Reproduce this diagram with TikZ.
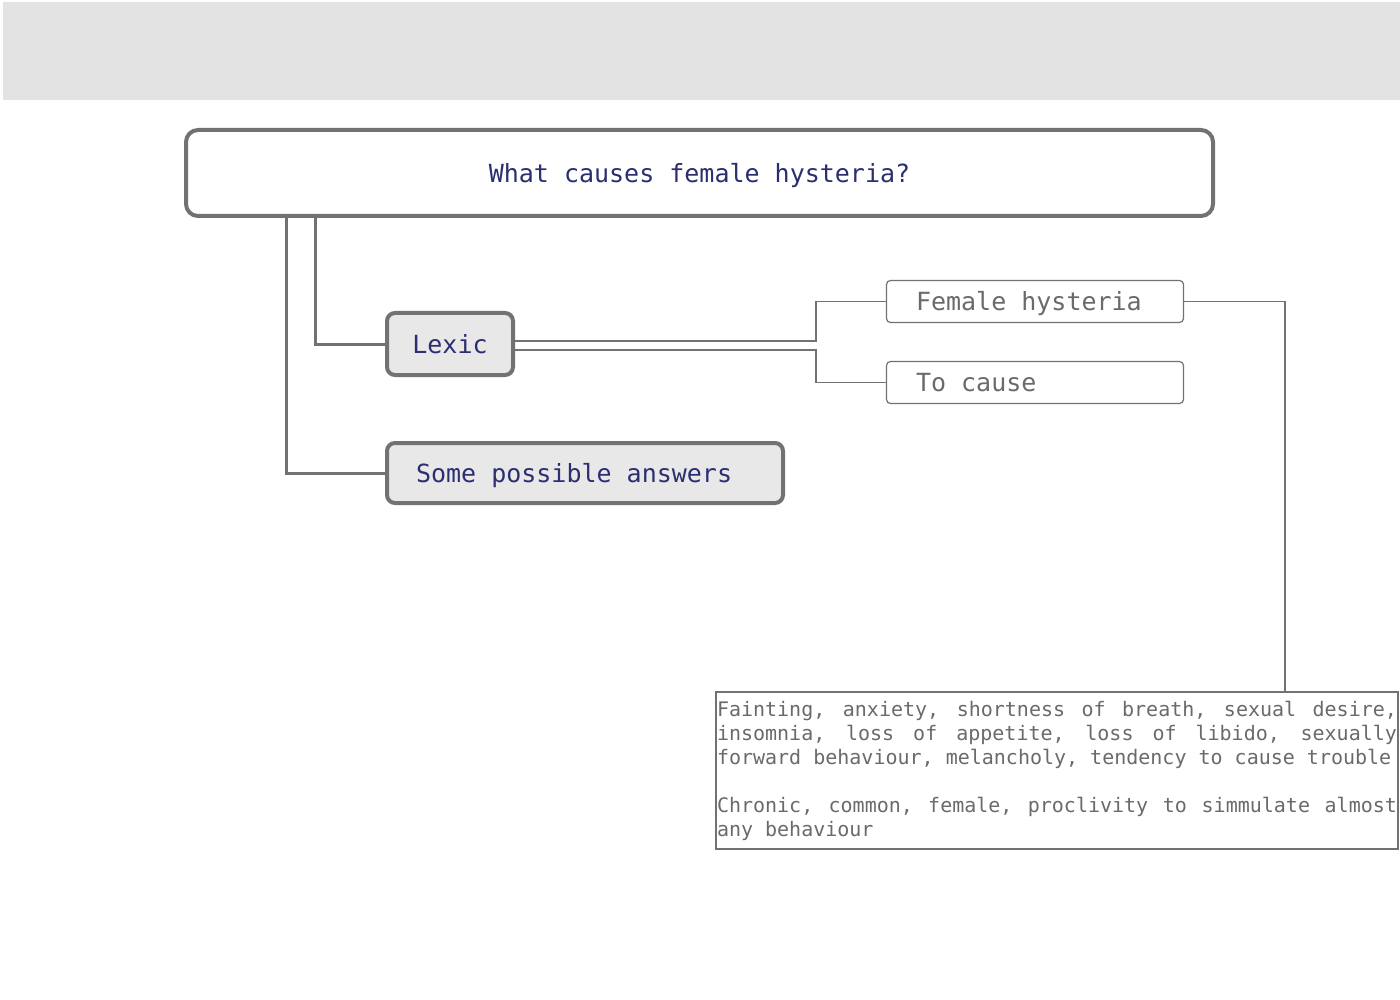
\documentclass[tikz,border=0pt]{standalone}
\usepackage{fontspec}
\usetikzlibrary{calc}
\newfontfamily\diagmono{DejaVu Sans Mono}
\definecolor{headgray}{HTML}{E3E3E3}
\definecolor{linegray}{HTML}{727272}
\definecolor{boxfill}{HTML}{E8E8E8}
\definecolor{navy}{RGB}{43,47,112}
\definecolor{softtext}{HTML}{6A6A6A}
% a justified line of the notes, spaces stretched to the full width
\newcommand\jline[1]{\makebox[680pt][s]{\spaceskip=\fontdimen2\font plus 1fil\relax #1}}
\tikzset{
  x=1pt, y=-1pt,
  % keep every space one character wide, as the font draws it
  monospaces/.style={execute at begin node={\spaceskip=0.602em\xspaceskip=0.602em\relax}},
  bigmono/.style={font=\diagmono\fontsize{25}{30}\selectfont, text height=18.5pt, text depth=0pt, monospaces},
  mainbox/.style={draw=linegray, line width=4pt, fill=white, rounded corners=12pt,
    minimum width=1027pt, minimum height=86pt, text=navy, bigmono},
  topicbox/.style={draw=linegray, line width=4pt, fill=boxfill, rounded corners=8pt,
    text=navy, bigmono},
  termbox/.style={draw=linegray, line width=1.2pt, fill=white, rounded corners=4pt,
    minimum height=42pt, text width=238pt, inner xsep=29.5pt, align=left,
    text=softtext, bigmono},
  notebox/.style={draw=linegray, line width=1.2pt, fill=white,
    minimum width=682pt, minimum height=157pt, text width=680pt, inner xsep=1pt,
    align=left, text=softtext, font=\diagmono\fontsize{20}{24}\selectfont, monospaces},
  trunk/.style={draw=linegray, line width=3pt},
  twig/.style={draw=linegray, line width=1.2pt},
}
\begin{document}
\begin{tikzpicture}
\useasboundingbox (0,0) rectangle (1400,1000);
% header band
\fill[headgray] (3,2) rectangle (1400,100);

% boxes
\node[mainbox] (title) at (699.5,173) {What causes female hysteria?};
\node[topicbox, minimum width=126pt, minimum height=62pt] (lexic) at (450,344) {Lexic};
\node[topicbox, minimum height=60pt, text width=338pt, inner xsep=29pt, align=left]
  (answers) at (585,473) {Some possible answers};
\node[termbox] (fh) at (1035,301.5) {Female hysteria};
\node[termbox] (tc) at (1035,382.5) {To cause};
\node[notebox] (notes) at (1057,770.5) {%
\jline{Fainting, anxiety, shortness of breath, sexual desire,}\\
\jline{insomnia, loss of appetite, loss of libido, sexually}\\
forward behaviour, melancholy, tendency to cause trouble\\[24pt]
\jline{Chronic, common, female, proclivity to simmulate almost}\\
any behaviour};

% branch points
\coordinate (split) at (816,0);
\coordinate (drop) at (1285,0);

% connectors
\draw[trunk] ($(title.south west)+(131,0)$) |- (lexic.west);
\draw[trunk] ($(title.south west)+(102,0)$) |- (answers.west);
\draw[twig] ($(lexic.east)+(0,-3)$) -| (split |- fh.west) -- (fh.west);
\draw[twig] ($(lexic.east)+(0,6)$) -| (split |- tc.west) -- (tc.west);
\draw[twig] (fh.east) -| (drop |- notes.north);
\end{tikzpicture}
\end{document}
